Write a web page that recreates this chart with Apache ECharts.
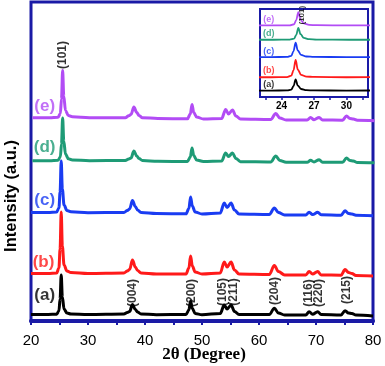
<!DOCTYPE html>
<html>
<head>
<meta charset="utf-8">
<script src="https://cdn.jsdelivr.net/npm/echarts@6/dist/echarts.min.js"></script>
<style>
  html, body { margin: 0; padding: 0; background: #fff; }
  #chart { width: 385px; height: 366px; }
</style>
</head>
<body>
<div id="chart"></div>
<script>
// 2theta sample points shared by all patterns
const twoTheta = [20, 23, 24.5, 24.9, 25.1, 25.3, 25.5, 25.8, 26.3, 27, 30, 36.3, 36.9, 37.3, 37.8, 38.3, 38.7, 39.3, 42,
  47.2, 47.7, 48.0, 48.3, 48.8, 50, 53.2, 53.9, 54.4, 55.1, 55.7, 56.5, 61.8, 62.7, 63.4, 64.5,
  68.2, 68.8, 69.4, 70.3, 70.9, 74.4, 75.1, 75.7, 76.3, 77, 80];

// intensity above each pattern's own baseline (a.u.)
const patA = [0.5, 0.5, 0.8, 4, 16, 40, 18, 6, 2, 1, 0.5, 1, 2.5, 3.5, 10.5, 5.5, 3, 1, 0.3,
  0.5, 5, 14, 6.5, 1.5, 0.3, 1.5, 10, 6, 10, 3.5, 0.5, 0.5, 6.7, 2, 0,
  0, 3.3, 0.8, 3.3, 0.5, 0, 4.3, 2, 1.5, 0, -1];
const patB = [0.5, 0.5, 1, 6, 25, 62, 28, 9, 3, 1.5, 0.5, 1, 3, 4.5, 14, 7, 3.5, 1, 0,
  0, 6, 18, 8, 2, 0, 1, 12, 7, 12, 4, 0, -0.5, 8.5, 2.5, -1,
  -1, 2.5, 0, 2.5, -1, -1.2, 4.5, 1.5, 0.5, -1.5, -2];
const patC = [0.5, 0.5, 1, 5, 21, 52, 24, 8, 2.5, 1.2, 0.3, 0.5, 2.5, 4, 12.5, 6.5, 3, 0.5, -0.5,
  -0.8, 4.5, 16, 7, 1, -1, 0, 10, 5.5, 10, 3, -1, -1.5, 5, 0.5, -2,
  -2, 0.7, -1.5, 0.7, -1.8, -2.2, 2.2, -0.5, -1, -2.2, -2.7];
const patD = [0.3, 0.3, 0.8, 4, 17, 43, 20, 7, 2.2, 1, 0.3, 0.5, 2, 3, 10, 5, 2.5, 0.5, -0.3,
  -0.5, 4, 13, 5.5, 1, -0.5, 0, 8, 4.5, 8, 2.5, -0.7, -1, 5, 0.5, -1.2,
  -1.3, 0.7, -1, 1.3, -1.2, -1.3, 3, 0.5, 0, -1.4, -1.7];
const patE = [0.3, 0.3, 0.8, 4.5, 19, 47.5, 22, 7.5, 2.4, 1.2, 0.3, 0.3, 2.2, 3.5, 11, 5.5, 2.5, 0.3, -0.5,
  -0.8, 4, 13.5, 5.5, 1, -1, -0.5, 8.5, 4, 8, 2, -1, -1.5, 4.5, 0, -2,
  -2, 0.5, -1.7, 0.5, -2, -2.2, 2, -0.5, -1, -2.3, -2.7];

const patterns = [patA, patB, patC, patD, patE];
const sampleNames = ['(a)', '(b)', '(c)', '(d)', '(e)'];
const peakShift = [0, 0, 0, 0.25, 0.25];      // small shift of (d),(e) to higher angle
const offsets = [6, 47, 108, 160, 203];       // vertical stacking, main plot
const insetOffsets = [22.5, 70, 142, 204, 255]; // vertical stacking, inset
const colors = ['#000000', '#ff1a1a', '#1a3cf2', '#1e9b76', '#b24cf5'];

// sample label anchors [2theta, intensity]
const nameX = [22.4, 22.2, 22.4, 22.4, 22.4];
const nameY = [26, 59, 121, 174, 215];
const insetNameX = [22.8, 22.8, 22.8, 22.8, 22.8];
const insetNameY = [45, 94, 164, 228, 278];

// Miller indices
const hklText = ['(101)', '(004)', '(200)', '(105)', '(211)', '(204)', '(116)', '(220)', '(215)'];
const hklX = [25.5, 37.8, 48.2, 53.7, 55.5, 62.8, 68.65, 70.4, 75.4];
const hklY = [266, 28, 28, 29, 29, 30, 28, 28, 31];

const frame = '#1a1aa6';
const chart = echarts.init(document.getElementById('chart'));

const series = [];
patterns.forEach((p, i) => {
  series.push({
    type: 'line', xAxisIndex: 0, yAxisIndex: 0, symbol: 'none', z: 2 + i,
    smooth: 0.35, smoothMonotone: 'x',
    lineStyle: { color: colors[i], width: 3 },
    data: twoTheta.map((t, j) => [t + peakShift[i], offsets[i] + p[j]])
  });
});
patterns.forEach((p, i) => {
  const s = {
    type: 'line', xAxisIndex: 1, yAxisIndex: 1, symbol: 'none', z: 20 + i,
    smooth: 0.35, smoothMonotone: 'x',
    lineStyle: { color: colors[i], width: 1.8 },
    data: twoTheta.map((t, j) => [t + peakShift[i], insetOffsets[i] + p[j]])
  };
  if (i === 0) {
    s.markLine = {
      silent: true, symbol: 'none', label: { show: false },
      lineStyle: { color: '#c42ac4', type: [4, 3], width: 1.5 },
      data: [{ xAxis: 25.3 }]
    };
  }
  series.push(s);
});

series.push({
  type: 'scatter', xAxisIndex: 0, yAxisIndex: 0, symbolSize: 0, z: 30,
  label: { show: true, position: 'inside', fontFamily: 'Liberation Sans', fontWeight: 'bold', fontSize: 17 },
  data: sampleNames.map((n, i) => ({ value: [nameX[i], nameY[i]], label: { formatter: n, color: colors[i] } }))
});
series.push({
  type: 'scatter', xAxisIndex: 0, yAxisIndex: 0, symbolSize: 0, z: 30,
  label: { show: true, position: 'inside', rotate: 90, color: '#000', fontFamily: 'Liberation Sans', fontWeight: 'bold', fontSize: 12 },
  data: hklText.map((n, i) => ({ value: [hklX[i], hklY[i]], label: { formatter: n } }))
});
series.push({
  type: 'scatter', xAxisIndex: 1, yAxisIndex: 1, symbolSize: 0, z: 30,
  label: { show: true, position: 'inside', fontFamily: 'Liberation Sans', fontWeight: 'bold', fontSize: 9 },
  data: sampleNames.map((n, i) => ({ value: [insetNameX[i], insetNameY[i]], label: { formatter: n, color: colors[i] } }))
});
series.push({
  type: 'scatter', xAxisIndex: 1, yAxisIndex: 1, symbolSize: 0, z: 30,
  label: { show: true, position: 'inside', rotate: 90, color: '#000', fontFamily: 'Liberation Sans', fontWeight: 'bold', fontSize: 8 },
  data: [{ value: [25.86, 292], label: { formatter: '(101)' } }]
});

const option = {
  animation: false,
  backgroundColor: '#fff',
  grid: [
    { left: 31, top: 2, right: 12, bottom: 45, outerBoundsMode: 'none', show: true, borderColor: frame, borderWidth: 3 },
    { left: 260, top: 9, width: 108, height: 88, outerBoundsMode: 'none', show: true, borderColor: frame, borderWidth: 2, backgroundColor: '#fff', z: 10 }
  ],
  xAxis: [
    {
      type: 'value', gridIndex: 0, min: 20, max: 80, interval: 5,
      axisLine: { lineStyle: { color: frame, width: 4 } },
      axisTick: { length: 4, lineStyle: { color: frame, width: 2 } },
      axisLabel: { margin: 12, color: '#000', fontFamily: 'Liberation Sans', fontSize: 15,
        formatter: v => (v % 10 === 0 ? String(v) : '') },
      splitLine: { show: false }
    },
    {
      type: 'value', gridIndex: 1, min: 22, max: 32, z: 12,
      axisLine: { lineStyle: { color: frame, width: 2 } },
      axisTick: { length: 3, customValues: [22.5, 24, 25.5, 27, 28.5, 30, 31.5], lineStyle: { color: frame, width: 1.5 } },
      axisLabel: { margin: 4, customValues: [24, 27, 30], color: '#000', fontFamily: 'Liberation Sans', fontWeight: 'bold', fontSize: 10 },
      splitLine: { show: false }
    }
  ],
  yAxis: [
    { type: 'value', gridIndex: 0, min: 0, max: 319, show: false },
    { type: 'value', gridIndex: 1, min: 0, max: 314, show: false }
  ],
  graphic: [{
    type: 'text', x: 11, y: 196, rotation: Math.PI / 2,
    style: { text: 'Intensity (a.u.)', fill: '#000', font: 'bold 16.5px "Liberation Sans"', align: 'center', verticalAlign: 'middle' }
  }, {
    type: 'text', x: 204, y: 355,
    style: { text: '2θ (Degree)', fill: '#000', font: 'bold 17px "Liberation Serif"', align: 'center', verticalAlign: 'middle' }
  }],
  series: series
};
chart.setOption(option);
</script>
</body>
</html>
